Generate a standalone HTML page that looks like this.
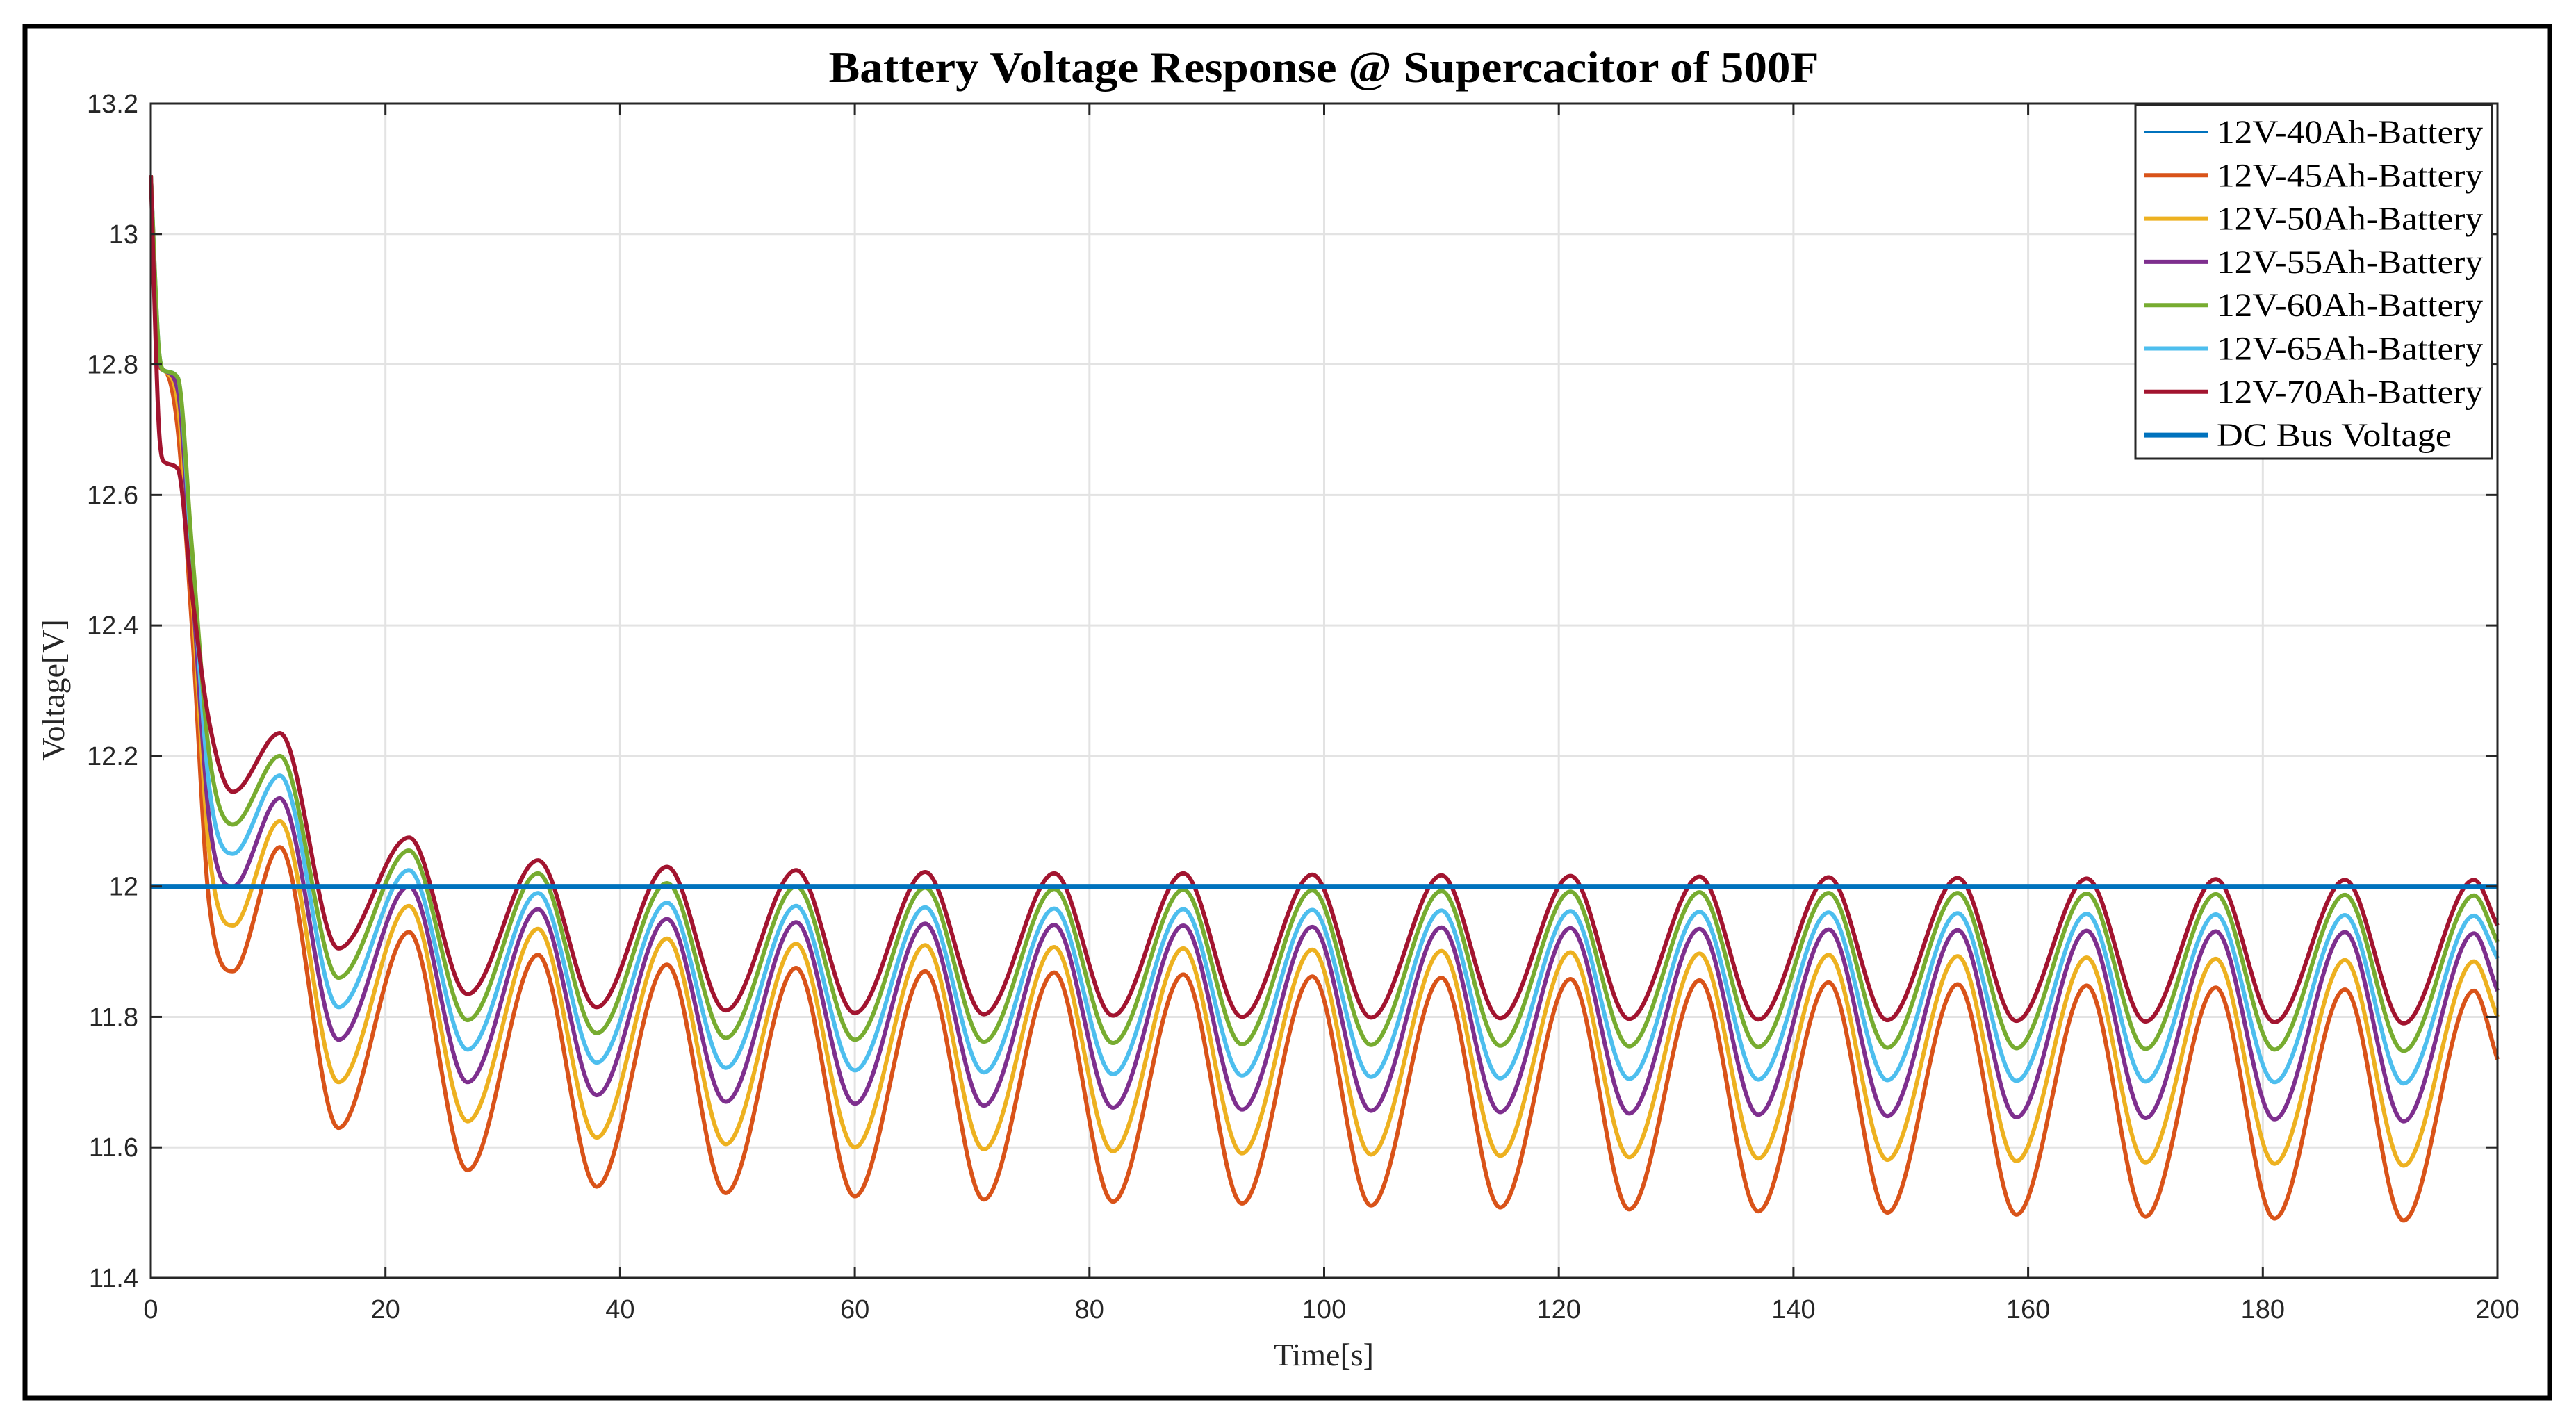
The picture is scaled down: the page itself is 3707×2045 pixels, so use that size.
<!DOCTYPE html>
<html><head><meta charset="utf-8"><style>
html,body{margin:0;padding:0;background:#fff;}
svg{display:block;}
</style></head><body>
<svg id="chart" width="3707" height="2045" xmlns="http://www.w3.org/2000/svg">
<rect x="0" y="0" width="3707" height="2045" fill="#fff"/>
<rect x="36" y="38" width="3633" height="1974" fill="none" stroke="#000" stroke-width="7"/>
<g id="grid"></g>
<g id="series"></g>
<g id="axes"></g>
<text x="1905" y="118" text-anchor="middle" font-family="Liberation Serif, serif" font-weight="bold" font-size="64" textLength="1425" lengthAdjust="spacingAndGlyphs" fill="#000">Battery Voltage Response @ Supercacitor of 500F</text>
<text x="1905" y="1965" text-anchor="middle" font-family="Liberation Serif, serif" font-size="46" fill="#262626">Time[s]</text>
<text transform="translate(92,993) rotate(-90)" text-anchor="middle" font-family="Liberation Serif, serif" font-size="46" fill="#262626">Voltage[V]</text>
<g id="legend"></g>
</svg>
<script>
const xTicks=[0,20,40,60,80,100,120,140,160,180,200];
const yTicks=[11.4,11.6,11.8,12,12.2,12.4,12.6,12.8,13,13.2];
const yTickLabels=["11.4","11.6","11.8","12","12.2","12.4","12.6","12.8","13","13.2"];
const seriesNames=["12V-40Ah-Battery","12V-45Ah-Battery","12V-50Ah-Battery","12V-55Ah-Battery","12V-60Ah-Battery","12V-65Ah-Battery","12V-70Ah-Battery","DC Bus Voltage"];
const earlyT=[0,0.7,1.2,2.3,3.5,5];
const peakT=[11,22,33,44,55,66,77,88,99,110,121,132,143,154,165,176,187,198];
const troughT=[7,16,27,38,49,60,71,82,93,104,115,126,137,148,159,170,181,192];
const endT=200;
const busVoltage=12.0;
// 45Ah (orange)
const early45=[13.09,12.8,12.79,12.7,12.4,11.97];
const peaks45=[12.06,11.93,11.895,11.88,11.875,11.87,11.868,11.865,11.862,11.86,11.858,11.856,11.853,11.85,11.848,11.845,11.842,11.84];
const troughs45=[11.87,11.63,11.565,11.54,11.53,11.525,11.52,11.517,11.514,11.511,11.508,11.505,11.502,11.5,11.497,11.494,11.491,11.488];
const end45=11.735;
// 50Ah (yellow)
const early50=[13.09,12.81,12.79,12.74,12.45,12.05];
const peaks50=[12.1,11.97,11.935,11.92,11.912,11.91,11.907,11.905,11.903,11.901,11.899,11.897,11.895,11.893,11.891,11.889,11.887,11.885];
const troughs50=[11.94,11.7,11.64,11.615,11.605,11.6,11.597,11.594,11.591,11.589,11.587,11.585,11.583,11.581,11.579,11.577,11.575,11.572];
const end50=11.8;
// 55Ah (purple)
const early55=[13.09,12.81,12.79,12.76,12.47,12.1];
const peaks55=[12.135,12.0,11.965,11.95,11.945,11.943,11.941,11.94,11.938,11.937,11.936,11.935,11.934,11.933,11.932,11.931,11.93,11.928];
const troughs55=[12.0,11.765,11.7,11.68,11.67,11.667,11.664,11.661,11.658,11.656,11.654,11.652,11.65,11.648,11.646,11.645,11.643,11.64];
const end55=11.84;
// 60Ah (green)
const early60=[13.09,12.82,12.79,12.78,12.52,12.2];
const peaks60=[12.2,12.055,12.02,12.005,12.0,11.998,11.996,11.995,11.994,11.993,11.992,11.991,11.99,11.99,11.989,11.988,11.987,11.986];
const troughs60=[12.095,11.86,11.795,11.775,11.768,11.765,11.762,11.76,11.758,11.757,11.756,11.755,11.754,11.753,11.752,11.751,11.75,11.748];
const end60=11.915;
// 65Ah (light blue)
const early65=[13.09,12.82,12.79,12.78,12.5,12.15];
const peaks65=[12.17,12.025,11.99,11.975,11.97,11.968,11.966,11.965,11.964,11.963,11.962,11.961,11.96,11.959,11.958,11.957,11.956,11.955];
const troughs65=[12.05,11.815,11.75,11.73,11.722,11.718,11.715,11.712,11.71,11.708,11.706,11.705,11.704,11.703,11.702,11.701,11.7,11.698];
const end65=11.89;
// 70Ah (dark red)
const early70=[13.09,12.7,12.65,12.64,12.45,12.25];
const peaks70=[12.235,12.075,12.04,12.03,12.025,12.022,12.02,12.02,12.018,12.017,12.016,12.015,12.014,12.013,12.012,12.011,12.01,12.01];
const troughs70=[12.145,11.905,11.835,11.815,11.81,11.806,11.804,11.802,11.8,11.799,11.798,11.797,11.796,11.795,11.794,11.793,11.792,11.79];
const end70=11.94;

const NS="http://www.w3.org/2000/svg";
const L=217,R=3594,T=149,B=1839;
const xs=t=>L+(t-0)/(200-0)*(R-L);
const ys=v=>B-(v-11.4)/(13.2-11.4)*(B-T);
function mk(tag,attrs,parent){const e=document.createElementNS(NS,tag);for(const k in attrs)e.setAttribute(k,attrs[k]);parent.appendChild(e);return e;}

const grid=document.getElementById('grid');
const axes=document.getElementById('axes');
xTicks.forEach((t,i)=>{
  if(t>0&&t<200){const g=mk('line',{x1:xs(t),x2:xs(t),y1:T,y2:B,stroke:'#e3e3e3','stroke-width':3},grid);
  
  }
  mk('line',{x1:xs(t),x2:xs(t),y1:B,y2:B-16,stroke:'#262626','stroke-width':3},axes);
  mk('line',{x1:xs(t),x2:xs(t),y1:T,y2:T+16,stroke:'#262626','stroke-width':3},axes);
  const tx=mk('text',{x:xs(t),y:B+58,'text-anchor':'middle','font-family':'Liberation Sans, sans-serif','font-size':38,fill:'#262626'},axes);
  
  
  tx.textContent=String(t);
});
yTicks.forEach((v,i)=>{
  if(v>11.4&&v<13.2){const g=mk('line',{x1:L,x2:R,y1:ys(v),y2:ys(v),stroke:'#e3e3e3','stroke-width':3},grid);
  
  }
  mk('line',{x1:L,x2:L+16,y1:ys(v),y2:ys(v),stroke:'#262626','stroke-width':3},axes);
  mk('line',{x1:R,x2:R-16,y1:ys(v),y2:ys(v),stroke:'#262626','stroke-width':3},axes);
  const tx=mk('text',{x:L-18,y:ys(v)+13,'text-anchor':'end','font-family':'Liberation Sans, sans-serif','font-size':38,fill:'#262626'},axes);
  
  
  tx.textContent=yTickLabels[i];
});
const box=mk('rect',{x:L,y:T,width:R-L,height:B-T,fill:'none',stroke:'#262626','stroke-width':3},axes);



function buildPts(early,peaks,troughs,endV){
  const pts=[];
  early.forEach((v,i)=>pts.push([earlyT[i],v]));
  const ext=[];
  peakT.forEach((t,i)=>ext.push([t,peaks[i]]));
  troughT.forEach((t,i)=>ext.push([t,troughs[i]]));
  ext.sort((a,b)=>a[0]-b[0]);
  ext.forEach(p=>pts.push(p));
  pts.push([endT,endV]);
  return pts;
}
function monotonePath(pts){
  const n=pts.length,d=[],m=[];
  for(let i=0;i<n-1;i++)d.push((pts[i+1][1]-pts[i][1])/(pts[i+1][0]-pts[i][0]));
  m[0]=d[0];m[n-1]=d[n-2];
  for(let i=1;i<n-1;i++){m[i]=(d[i-1]*d[i]<=0)?0:(d[i-1]+d[i])/2;}
  for(let i=0;i<n-1;i++){if(d[i]===0){m[i]=0;m[i+1]=0;continue;}
    const a=m[i]/d[i],b=m[i+1]/d[i],s=a*a+b*b;if(s>9){const tt=3/Math.sqrt(s);m[i]=tt*a*d[i];m[i+1]=tt*b*d[i];}}
  let p='M'+xs(pts[0][0]).toFixed(1)+','+ys(pts[0][1]).toFixed(1);
  for(let i=0;i<n-1;i++){const h=pts[i+1][0]-pts[i][0];
    const c1x=pts[i][0]+h/3,c1y=pts[i][1]+m[i]*h/3,c2x=pts[i+1][0]-h/3,c2y=pts[i+1][1]-m[i+1]*h/3;
    p+=' C'+xs(c1x).toFixed(1)+','+ys(c1y).toFixed(1)+' '+xs(c2x).toFixed(1)+','+ys(c2y).toFixed(1)+' '+xs(pts[i+1][0]).toFixed(1)+','+ys(pts[i+1][1]).toFixed(1);}
  return p;
}
const sg=document.getElementById('series');
function drawSeries(name,color,w,early,peaks,troughs,endV){
  const p=mk('path',{d:monotonePath(buildPts(early,peaks,troughs,endV)),fill:'none',stroke:color,'stroke-width':w,'stroke-linejoin':'round'},sg);
  
  
}
drawSeries('series-40ah','#0072BD',4,early65,peaks65,troughs65,end65);
drawSeries('series-45ah','#D95319',6,early45,peaks45,troughs45,end45);
drawSeries('series-50ah','#EDB120',6,early50,peaks50,troughs50,end50);
drawSeries('series-55ah','#7E2F8E',6,early55,peaks55,troughs55,end55);
drawSeries('series-65ah','#4DBEEE',6,early65,peaks65,troughs65,end65);
drawSeries('series-60ah','#77AC30',6,early60,peaks60,troughs60,end60);
drawSeries('series-70ah','#A2142F',6,early70,peaks70,troughs70,end70);
const bus=mk('line',{x1:xs(0),x2:xs(200),y1:ys(busVoltage),y2:ys(busVoltage),stroke:'#0072BD','stroke-width':7},sg);



const lg=document.getElementById('legend');
const lcolors=['#0072BD','#D95319','#EDB120','#7E2F8E','#77AC30','#4DBEEE','#A2142F','#0072BD'];
const lw=[3,6,6,6,6,6,6,7];
const lb=mk('rect',{x:3073,y:151,width:513,height:509,fill:'#fff',stroke:'#262626','stroke-width':3},lg);


seriesNames.forEach((n,i)=>{
  const y=190+i*62.3;
  const ln=mk('line',{x1:3085,x2:3177,y1:y,y2:y,stroke:lcolors[i],'stroke-width':lw[i]},lg);
  
  
  const t=mk('text',{x:3190,y:y+16,'font-family':'Liberation Serif, serif','font-size':48,fill:'#000',textLength:(i===7?338:383),lengthAdjust:'spacingAndGlyphs'},lg);
  
  
  t.textContent=n;
});
</script>
</body></html>
